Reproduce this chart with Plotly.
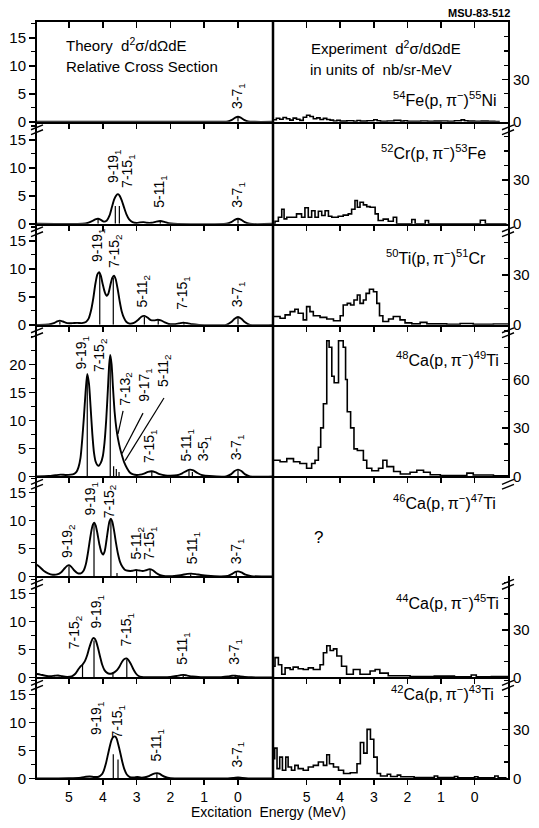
import plotly.graph_objects as go

W, H = 539, 828
FONT = "Liberation Sans, Arial, Helvetica, sans-serif"

# ======================= DATA =======================
# Theory curves (excitation energy MeV, relative cross section)
th1_E = [5.95, 0.5, 0.3, 0.18, 0.08, 0.0, -0.08, -0.18, -0.3, -0.5, -1.04]
th1_y = [0, 0, 0.05, 0.35, 0.75, 0.9, 0.75, 0.35, 0.05, 0, 0]

th2_E = [5.95, 4.6, 4.45, 4.3, 4.2, 4.14, 4.07, 3.97, 3.88, 3.8, 3.73, 3.66, 3.6, 3.55, 3.5, 3.44, 3.37, 3.3,
         3.22, 3.12, 3.0, 2.9, 2.8, 2.7, 2.55, 2.42, 2.3, 2.18, 2.05, 1.9, 0.35, 0.2, 0.1, 0.0, -0.1, -0.2, -0.35, -1.04]
th2_y = [0, 0, 0.15, 0.55, 0.85, 0.9, 0.75, 0.4, 0.6, 1.5, 3.0, 4.4, 5.1, 5.3, 5.0, 4.2, 2.9, 1.7,
         0.8, 0.3, 0.15, 0.25, 0.3, 0.2, 0.2, 0.4, 0.5, 0.35, 0.1, 0, 0, 0.3, 0.7, 0.9, 0.7, 0.3, 0, 0]

th3_E = [5.95, 5.6, 5.45, 5.35, 5.27, 5.18, 5.05, 4.9, 4.76, 4.62, 4.5, 4.42, 4.35, 4.28, 4.22, 4.16, 4.11, 4.06,
         4.0, 3.94, 3.89, 3.84, 3.78, 3.72, 3.67, 3.62, 3.56, 3.5, 3.44, 3.37, 3.3, 3.2, 3.08, 2.95, 2.86, 2.77,
         2.68, 2.58, 2.48, 2.38, 2.28, 2.17, 2.05, 1.9, 1.75, 1.62, 1.5, 1.35, 1.15, 0.35, 0.2, 0.1, 0.0, -0.1,
         -0.2, -0.35, -1.04]
th3_y = [0, 0.05, 0.3, 0.6, 0.75, 0.6, 0.3, 0.3, 0.35, 0.3, 0.5, 1.1, 2.5, 4.8, 7.3, 9.0, 9.4, 8.8,
         7.2, 5.8, 5.2, 5.5, 7.0, 8.4, 8.8, 8.2, 6.4, 4.2, 2.4, 1.2, 0.5, 0.2, 0.35, 0.9, 1.45, 1.6,
         1.3, 0.85, 0.8, 0.9, 0.8, 0.45, 0.15, 0.1, 0.25, 0.4, 0.3, 0.1, 0, 0, 0.5, 1.1, 1.4, 1.1,
         0.5, 0, 0]

th4_E = [5.95, 5.6, 5.4, 5.25, 5.1, 4.95, 4.85, 4.78, 4.72, 4.66, 4.61, 4.56, 4.51, 4.46, 4.41, 4.36, 4.31, 4.26,
         4.21, 4.16, 4.12, 4.06, 4.0, 3.95, 3.9, 3.85, 3.81, 3.78, 3.74, 3.7, 3.65, 3.6, 3.55, 3.49, 3.43, 3.36,
         3.28, 3.2, 3.1, 3.0, 2.9, 2.78, 2.66, 2.55, 2.45, 2.32, 2.15, 2.0, 1.8, 1.65, 1.52, 1.42, 1.32, 1.2,
         1.05, 0.85, 0.35, 0.2, 0.1, 0.0, -0.1, -0.2, -0.35, -1.04]
th4_y = [0, 0.05, 0.2, 0.3, 0.25, 0.3, 0.45, 0.8, 1.6, 3.3, 6.5, 10.5, 15.0, 18.3, 16.6, 12.3, 7.6, 4.2,
         2.6, 2.0, 1.9, 2.4, 3.6, 6.0, 10.0, 15.5, 20.0, 21.7, 20.0, 16.0, 11.5, 8.6, 6.7, 5.0, 3.7, 2.4,
         1.4, 0.7, 0.35, 0.25, 0.3, 0.5, 0.8, 0.9, 0.75, 0.4, 0.15, 0.1, 0.2, 0.55, 1.0, 1.2, 1.05, 0.6,
         0.2, 0.05, 0, 0.4, 0.95, 1.2, 0.95, 0.4, 0, 0]

th5_E = [5.95, 5.85, 5.75, 5.62, 5.48, 5.35, 5.22, 5.12, 5.05, 5.0, 4.93, 4.85, 4.75, 4.65, 4.57, 4.5, 4.44, 4.38,
         4.33, 4.29, 4.25, 4.21, 4.16, 4.1, 4.04, 3.99, 3.94, 3.89, 3.84, 3.8, 3.76, 3.72, 3.67, 3.61, 3.55,
         3.49, 3.42, 3.35, 3.25, 3.12, 3.02, 2.92, 2.82, 2.72, 2.62, 2.52, 2.42, 2.3, 2.15, 1.95, 1.7, 1.5,
         1.38, 1.25, 1.1, 0.9, 0.5, 0.3, 0.17, 0.08, 0.0, -0.1, -0.22, -0.4, -1.04]
th5_y = [2.1, 1.6, 1.0, 0.55, 0.3, 0.35, 0.8, 1.5, 1.9, 2.0, 1.7, 1.1, 0.6, 0.55, 1.0, 2.2, 4.2, 6.6,
         8.4, 9.3, 9.6, 9.1, 7.7, 5.7, 4.3, 3.9, 4.6, 6.5, 8.6, 9.9, 10.3, 9.8, 8.3, 6.0, 4.0,
         2.6, 1.7, 1.2, 1.0, 1.0, 1.15, 1.05, 0.95, 1.1, 1.3, 1.1, 0.6, 0.2, 0.05, 0.05, 0.2, 0.45,
         0.5, 0.4, 0.25, 0.1, 0, 0.1, 0.45, 0.8, 0.9, 0.7, 0.3, 0.05, 0]

th6_E = [5.95, 5.85, 5.7, 5.55, 5.42, 5.32, 5.2, 5.05, 4.92, 4.82, 4.74, 4.67, 4.6, 4.53, 4.46, 4.4, 4.34, 4.29,
         4.25, 4.2, 4.14, 4.08, 4.02, 3.95, 3.87, 3.8, 3.73, 3.66, 3.58, 3.5, 3.43, 3.36, 3.3, 3.24, 3.17, 3.1,
         3.02, 2.94, 2.85, 2.7, 2.3, 2.0, 1.82, 1.7, 1.62, 1.52, 1.35, 1.1, 0.5, 0.3, 0.18, 0.08, -0.05, -0.2,
         -0.4, -1.04]
th6_y = [0.6, 0.5, 0.3, 0.2, 0.3, 0.35, 0.2, 0.1, 0.2, 0.6, 1.3, 1.9, 2.3, 2.9, 4.0, 5.3, 6.4, 7.0,
         7.0, 6.5, 5.2, 3.7, 2.3, 1.3, 0.8, 0.65, 0.7, 0.9, 1.3, 2.0, 2.8, 3.3, 3.4, 3.1, 2.4, 1.5,
         0.7, 0.25, 0.1, 0.05, 0.05, 0.1, 0.25, 0.4, 0.45, 0.35, 0.15, 0.05, 0.05, 0.15, 0.3, 0.3, 0.2, 0.1,
         0.02, 0]

th7_E = [5.95, 5.0, 4.65, 4.5, 4.38, 4.25, 4.12, 4.03, 3.97, 3.91, 3.85, 3.79, 3.74, 3.69, 3.64, 3.59, 3.54, 3.48,
         3.42, 3.36, 3.29, 3.2, 3.08, 2.98, 2.88, 2.75, 2.62, 2.52, 2.45, 2.39, 2.33, 2.25, 2.15, 2.0, 1.5, 0.3,
         0.12, 0.0, -0.12, -0.3, -1.04]
th7_y = [0, 0.05, 0.15, 0.3, 0.35, 0.25, 0.3, 0.7, 1.4, 2.6, 4.2, 5.8, 6.9, 7.4, 7.5, 7.1, 6.0, 4.5,
         2.9, 1.6, 0.7, 0.25, 0.15, 0.25, 0.15, 0.2, 0.45, 0.75, 0.9, 0.95, 0.85, 0.55, 0.25, 0.05, 0, 0,
         0.08, 0.15, 0.08, 0, 0]

# Theory state lines (energy, strength)
st1_E = [0.0]
st1_h = [0.9]
st2_E = [4.14, 3.63, 3.51, 2.3, 0.0]
st2_h = [0.8, 3.2, 3.2, 0.5, 0.9]
st3_E = [5.27, 4.09, 3.69, 2.77, 2.36, 1.6, 0.0]
st3_h = [0.6, 9.0, 8.4, 1.4, 0.8, 0.35, 1.3]
st4_E = [4.46, 3.78, 3.68, 3.6, 3.52, 2.55, 1.45, 1.35, 0.0]
st4_h = [17.8, 21.2, 1.8, 1.3, 0.8, 0.8, 1.1, 0.8, 1.1]
st5_E = [5.0, 4.26, 3.76, 3.58, 3.0, 2.6, 1.4, 0.05]
st5_h = [1.8, 9.3, 10.0, 0.6, 1.0, 1.2, 0.4, 0.8]
st6_E = [4.6, 4.26, 3.7, 3.29, 1.62, 0.08]
st6_h = [2.2, 6.6, 0.6, 3.2, 0.4, 0.3]
st7_E = [3.69, 3.55, 2.4]
st7_h = [4.3, 3.4, 0.85]

# Experimental histograms: bin edges (MeV) and counts (nb/sr-MeV)
ex1_E = [6.0, 5.9, 5.8, 5.7, 5.6, 5.5, 5.4, 5.3, 5.2, 5.1, 5.0, 4.9, 4.8, 4.7, 4.6, 4.5, 4.4, 4.3, 4.2, 4.1,
         4.0, 3.8, 3.6, 3.5, 3.4, 3.2, 3.0, 2.9, 2.8, 2.6, 2.4, 2.2, 2.1, 2.0, 1.8, 1.6, 1.4, 1.2, 1.0, 0.8,
         0.6, 0.4, 0.3, 0.2, 0.0, -0.2, -0.4, -0.6, -0.75]
ex1_y = [1.5, 2.5, 1.8, 3.0, 2.2, 1.2, 2.6, 1.8, 1.0, 3.2, 4.6, 3.8, 2.2, 2.8, 1.6, 2.4, 1.6, 1.2, 0.6, 1.0,
         0.5, 0.7, 0.4, 0.9, 0.5, 0.8, 1.5, 0.8, 0.4, 0.6, 1.0, 0.5, 0.8, 0.4, 0.3, 0.6, 0.3, 0.5, 0.6, 0.4,
         0.8, 1.4, 0.8, 0.5, 0.3, 0.5, 0.3, 0.2]

ex2_E = [6.0, 5.94, 5.84, 5.74, 5.67, 5.59, 5.30, 5.15, 5.05, 4.95, 4.85, 4.75, 4.65, 4.55, 4.45, 4.35, 4.25,
         4.06, 3.91, 3.76, 3.66, 3.56, 3.49, 3.41, 3.31, 3.21, 3.11, 2.96, 2.87, 2.72, 2.57, 2.42, 2.32, 1.87,
         1.77, 1.47, 1.37, -0.17, -0.32, -0.95]
ex2_y = [0, 1.8, 4.5, 10, 3.4, 4.5, 6.8, 4.5, 11, 4.5, 9, 4.5, 8.6, 5.7, 9, 5.2, 4.5, 5.2, 6, 6.8, 10, 16,
         11.4, 14.8, 13, 11.8, 11.4, 6.8, 2.3, 3.2, 1.8, 4.5, 0, 3, 0, 2.3, 0, 2.5, 0]

ex3_E = [6.0, 5.79, 5.64, 5.49, 5.35, 5.25, 5.10, 5.0, 4.90, 4.80, 4.60, 4.40, 4.20, 4.0, 3.91, 3.79, 3.69,
         3.59, 3.49, 3.41, 3.31, 3.23, 3.13, 3.01, 2.91, 2.83, 2.73, 2.56, 2.42, 2.22, 2.07, 1.87, 1.62, 1.42,
         0.83, 0.43, 0.04, -0.56, -1.0]
ex3_y = [5, 4, 6, 8, 9.4, 7, 3, 11, 8, 5.5, 4.5, 3.5, 2.5, 5.5, 12, 13, 12, 15, 18, 13, 15, 19, 21.5, 20,
         13, 5.5, 2, 3.5, 5, 3, 1.2, 0.6, 1.5, 0.6, 0.3, 0.8, 0.3, 0.5]

ex4_E = [6.0, 5.79, 5.59, 5.39, 5.2, 5.0, 4.85, 4.75, 4.65, 4.58, 4.5, 4.4, 4.33, 4.25, 4.18, 4.05, 3.91,
         3.84, 3.79, 3.69, 3.59, 3.49, 3.31, 3.21, 3.06, 2.86, 2.73, 2.61, 2.41, 2.21, 1.92, 1.72, 1.52, 1.32,
         1.02, 0.23, 0.04, -0.56, -1.0]
ex4_y = [10, 9, 11, 9, 8, 5, 8, 10, 18, 30, 45, 84, 80, 62, 58, 84, 80, 60, 40, 30, 17, 16, 10, 5, 3.5,
         5, 10, 6, 3, 1.5, 2.5, 3.8, 2.5, 1.0, 0.5, 2.0, 0.8, 0.3]

ex5_E = []
ex5_y = []

ex6_E = [6.0, 5.94, 5.84, 5.74, 5.64, 5.49, 5.40, 5.25, 5.10, 4.95, 4.80, 4.60, 4.50, 4.40, 4.30, 4.20, 4.10,
         3.96, 3.81, 3.61, 3.41, 3.11, 2.96, 2.82, 2.57, 1.92, 1.2, 0.6, 0.1, -0.05, -0.5, -1.0]
ex6_y = [7, 12.5, 8, 2, 6, 5, 6.5, 5.5, 5, 6, 5, 8, 15.6, 20, 17, 18, 13.5, 7, 2, 5, 2, 4, 5, 2.7, 1.0,
         0.5, 0.8, 0.4, 1.5, 0.4, 0.5]

ex7_E = [6.0, 5.95, 5.88, 5.80, 5.72, 5.62, 5.55, 5.45, 5.35, 5.25, 5.1, 4.95, 4.8, 4.65, 4.5, 4.4, 4.32,
         4.2, 4.05, 3.9, 3.7, 3.5, 3.4, 3.3, 3.2, 3.1, 3.0, 2.9, 2.8, 2.6, 2.5, 2.3, 2.2, 1.8, 1.2, 1.1, 0.6,
         0.5, 0.0, -0.1, -0.6, -0.7, -0.95]
ex7_y = [12, 18.5, 6, 13, 5, 13, 7, 5, 8, 6, 5, 7, 8, 10, 8, 14.5, 9, 7, 5, 3, 3.5, 9, 22, 15.5, 30, 24,
         13, 3, 1.5, 2.5, 1.2, 2, 1.0, 0.5, 1.5, 0.5, 1.2, 0.4, 1, 0.3, 1.5, 0.3]

# State labels: text, energy, height of label foot
lb1_t = ["3-7<sub>1</sub>"]
lb1_E = [0.0]
lb1_y = [1.95]
lb2_t = ["9-19<sub>1</sub>", "7-15<sub>1</sub>", "5-11<sub>1</sub>", "3-7<sub>1</sub>"]
lb2_E = [3.69, 3.25, 2.31, 0.0]
lb2_y = [6.9, 6.0, 2.5, 2.5]
lb3_t = ["9-19<sub>1</sub>", "7-15<sub>2</sub>", "5-11<sub>2</sub>", "7-15<sub>1</sub>", "3-7<sub>1</sub>"]
lb3_E = [4.14, 3.64, 2.80, 1.62, 0.0]
lb3_y = [10.8, 9.9, 2.8, 2.3, 2.8]
lb4_t = ["9-19<sub>1</sub>", "7-15<sub>2</sub>", "7-13<sub>2</sub>", "9-17<sub>1</sub>", "5-11<sub>2</sub>",
         "7-15<sub>1</sub>", "5-11<sub>1</sub>", "3-5<sub>1</sub>", "3-7<sub>1</sub>"]
lb4_E = [4.62, 4.08, 3.34, 2.75, 2.19, 2.60, 1.48, 0.98, 0.03]
lb4_y = [18.8, 18.2, 12.2, 12.9, 15.6, 1.95, 2.3, 2.3, 2.5]
lb5_t = ["9-19<sub>2</sub>", "9-19<sub>1</sub>", "7-15<sub>2</sub>", "5-11<sub>2</sub>", "7-15<sub>1</sub>",
         "5-11<sub>1</sub>", "3-7<sub>1</sub>"]
lb5_E = [5.03, 4.35, 3.79, 2.99, 2.60, 1.33, 0.03]
lb5_y = [3.0, 10.6, 10.1, 2.65, 2.5, 1.8, 1.8]
lb6_t = ["7-15<sub>2</sub>", "9-19<sub>1</sub>", "7-15<sub>1</sub>", "5-11<sub>1</sub>", "3-7<sub>1</sub>"]
lb6_E = [4.82, 4.17, 3.28, 1.63, 0.09]
lb6_y = [4.6, 8.3, 5.1, 1.9, 1.9]
lb7_t = ["9-19<sub>1</sub>", "7-15<sub>1</sub>", "5-11<sub>1</sub>", "3-7<sub>1</sub>"]
lb7_E = [4.17, 3.55, 2.40, 0.0]
lb7_y = [7.3, 6.7, 2.65, 1.6]

# Leader lines in the 48Ca panel (label foot -> state)
ld4_E0 = [3.40, 2.81, 2.19]
ld4_y0 = [11.7, 11.3, 14.0]
ld4_E1 = [3.55, 3.43, 3.34]
ld4_y1 = [7.6, 4.1, 2.8]

reactions = [
    "<sup>54</sup>Fe(p,\u2009π<sup>−</sup>)<sup>55</sup>Ni",
    "<sup>52</sup>Cr(p,\u2009π<sup>−</sup>)<sup>53</sup>Fe",
    "<sup>50</sup>Ti(p,\u2009π<sup>−</sup>)<sup>51</sup>Cr",
    "<sup>48</sup>Ca(p,\u2009π<sup>−</sup>)<sup>49</sup>Ti",
    "<sup>46</sup>Ca(p,\u2009π<sup>−</sup>)<sup>47</sup>Ti",
    "<sup>44</sup>Ca(p,\u2009π<sup>−</sup>)<sup>45</sup>Ti",
    "<sup>42</sup>Ca(p,\u2009π<sup>−</sup>)<sup>43</sup>Ti",
]
left_ticks = [[0, 5, 10, 15]] * 3 + [[0, 5, 10, 15, 20]] + [[0, 5, 10, 15]] * 3
right_ticks = [[0, 30]] * 3 + [[0, 30, 60]] + [[0, 30]] * 3
energy_ticks = [5, 4, 3, 2, 1, 0]

rows = [
    (th1_E, th1_y, st1_E, st1_h, ex1_E, ex1_y, lb1_t, lb1_E, lb1_y),
    (th2_E, th2_y, st2_E, st2_h, ex2_E, ex2_y, lb2_t, lb2_E, lb2_y),
    (th3_E, th3_y, st3_E, st3_h, ex3_E, ex3_y, lb3_t, lb3_E, lb3_y),
    (th4_E, th4_y, st4_E, st4_h, ex4_E, ex4_y, lb4_t, lb4_E, lb4_y),
    (th5_E, th5_y, st5_E, st5_h, ex5_E, ex5_y, lb5_t, lb5_E, lb5_y),
    (th6_E, th6_y, st6_E, st6_h, ex6_E, ex6_y, lb6_t, lb6_E, lb6_y),
    (th7_E, th7_y, st7_E, st7_h, ex7_E, ex7_y, lb7_t, lb7_E, lb7_y),
]

# ======================= GEOMETRY / STYLE =======================
def fx(px):
    return px / W


def fy(py):
    return 1 - py / H


ROW_TOP = [22, 123, 226, 328, 481, 582, 684]
ROW_ZERO = [123, 226, 328, 481, 582, 684, 786]
X_L, X_M, X_R = 37, 273, 508
LEFT_PPU = 5.65
RIGHT_PPU = [1.43, 1.47, 1.67, 1.63, 2.7, 1.6, 1.65]
LEFT_XR = [(238 - X_L) / 33.8, (238 - X_M) / 33.8]
RIGHT_XR = [6.0, 6.0 - (X_R - X_M) / 33.6]
REACT_POS = [(498, 100), (488, 153), (488, 260), (501, 362), (498, 507), (501, 608), (496, 700)]

TICKFONT = dict(family=FONT, size=15, color="black")
XTICKFONT = dict(family=FONT, size=14, color="black")


def aid(k):
    return "" if k == 1 else str(k)


layout = dict(
    width=W, height=H, margin=dict(l=0, r=0, t=0, b=0),
    paper_bgcolor="white", plot_bgcolor="white", showlegend=False,
    font=dict(family=FONT, color="black"),
)
traces = []
annotations = []
shapes = []

for i, (thE, thY, stE, stH, exE, exY, lbT, lbE, lbY) in enumerate(rows):
    kl, kr = 2 * i + 1, 2 * i + 2
    ydom = [fy(ROW_ZERO[i]), fy(ROW_TOP[i])]
    last = i == 6
    hgt = ROW_ZERO[i] - ROW_TOP[i]
    xbase = dict(showline=True, linecolor="black", linewidth=2, ticks="outside", ticklen=5, tickwidth=1.5,
                 tickcolor="black", tickmode="array", tickvals=energy_ticks, showticklabels=last,
                 tickfont=XTICKFONT, showgrid=False, zeroline=False, fixedrange=True)
    layout["xaxis" + aid(kl)] = dict(xbase, domain=[fx(X_L), fx(X_M)], range=LEFT_XR, anchor="y" + aid(kl))
    layout["xaxis" + aid(kr)] = dict(xbase, domain=[fx(X_M), fx(X_R)], range=RIGHT_XR, anchor="y" + aid(kr))
    layout["yaxis" + aid(kl)] = dict(
        domain=ydom, range=[0, hgt / LEFT_PPU], anchor="x" + aid(kl), side="left",
        showline=True, linecolor="black", linewidth=2, ticks="outside", ticklen=6, tickwidth=1.5,
        tickcolor="black", tickmode="array", tickvals=left_ticks[i],
        minor=dict(tickmode="linear", tick0=0, dtick=2.5, ticks="outside", ticklen=4, tickcolor="black",
                   tickwidth=1.2),
        tickfont=TICKFONT, showgrid=False, zeroline=False, fixedrange=True)
    layout["yaxis" + aid(kr)] = dict(
        domain=ydom, range=[0, hgt / RIGHT_PPU[i]], anchor="x" + aid(kr), side="right",
        showline=True, linecolor="black", linewidth=2, ticks="inside", ticklen=6, tickwidth=1.5,
        tickcolor="black", tickmode="array", tickvals=right_ticks[i],
        minor=dict(tickmode="linear", tick0=0, dtick=10, ticks="inside", ticklen=4, tickcolor="black",
                   tickwidth=1.2),
        tickfont=TICKFONT, showgrid=False, zeroline=False, fixedrange=True)

    xl, yl = "x" + aid(kl), "y" + aid(kl)
    xr, yr = "x" + aid(kr), "y" + aid(kr)

    # theory curve
    traces.append(go.Scatter(x=thE, y=thY, mode="lines", xaxis=xl, yaxis=yl, hoverinfo="skip",
                             line=dict(color="black", width=1.9, shape="spline", smoothing=0.7)))
    # state sticks
    sx, sy = [], []
    for e, h in zip(stE, stH):
        sx += [e, e, None]
        sy += [0, h, None]
    traces.append(go.Scatter(x=sx, y=sy, mode="lines", xaxis=xl, yaxis=yl, hoverinfo="skip",
                             line=dict(color="black", width=1.2)))
    # experimental histogram
    n = min(len(exE) - 1, len(exY))
    if n > 0:
        hx = [exE[0]] + list(exE[:n + 1])
        hy = [0] + list(exY[:n]) + [exY[n - 1]]
        traces.append(go.Scatter(x=hx, y=hy, mode="lines", xaxis=xr, yaxis=yr, hoverinfo="skip",
                                 line=dict(color="black", width=1.6, shape="hv")))
    # state labels
    for t, e, yv in zip(lbT, lbE, lbY):
        annotations.append(dict(text=t, x=e, y=yv, xref=xl, yref=yl, showarrow=False, textangle=-90,
                                xanchor="center", yanchor="bottom",
                                font=dict(family=FONT, size=14, color="black")))
    # reaction label
    px_, py_ = REACT_POS[i]
    annotations.append(dict(text=reactions[i], x=fx(px_), y=fy(py_), xref="paper", yref="paper",
                            showarrow=False, xanchor="right", yanchor="middle",
                            font=dict(family=FONT, size=16, color="black")))

# leader lines, 48Ca panel (row 4 -> left axis 7)
for e0, y0, e1, y1 in zip(ld4_E0, ld4_y0, ld4_E1, ld4_y1):
    shapes.append(dict(type="line", xref="x7", yref="y7", x0=e0, y0=y0, x1=e1, y1=y1,
                       line=dict(color="black", width=1.2)))

# top border with inward ticks (row 1)
for k, rng, dom in [(15, LEFT_XR, [fx(X_L), fx(X_M)]), (16, RIGHT_XR, [fx(X_M), fx(X_R)])]:
    base = 1 if k == 15 else 2
    layout["xaxis" + str(k)] = dict(
        overlaying="x" + aid(base), anchor="y" + aid(base), side="top", domain=dom, range=rng,
        showline=True, linecolor="black", linewidth=2, ticks="inside", ticklen=6, tickwidth=1.5,
        tickcolor="black", tickmode="array", tickvals=energy_ticks, showticklabels=False,
        showgrid=False, zeroline=False, fixedrange=True)
    traces.append(go.Scatter(x=[rng[0]], y=[-10], mode="markers", xaxis="x" + str(k),
                             yaxis="y" + aid(base), hoverinfo="skip", marker=dict(opacity=0)))

# central divider
shapes.append(dict(type="line", xref="paper", yref="paper", x0=fx(X_M), x1=fx(X_M),
                   y0=fy(ROW_ZERO[-1]), y1=fy(ROW_TOP[0]), line=dict(color="black", width=2.5)))

# axis-break marks
for top in ROW_TOP[1:]:
    for xa in (X_L, X_R):
        for dy in (3, 8):
            shapes.append(dict(type="line", xref="paper", yref="paper",
                               x0=fx(xa - 6), y0=fy(top + dy + 5), x1=fx(xa + 6), y1=fy(top + dy),
                               line=dict(color="black", width=1.4)))

# free text
def txt(s, px_, py_, size=15, anchor="left", **kw):
    annotations.append(dict(text=s, x=fx(px_), y=fy(py_), xref="paper", yref="paper", showarrow=False,
                            xanchor=anchor, yanchor="middle",
                            font=dict(family=FONT, size=size, color="black"), **kw))


txt("<b>MSU-83-512</b>", 512, 13, size=11, anchor="right")
txt("Theory\u00a0\u00a0d<sup>2</sup>σ/dΩdE", 64, 45)
txt("Relative Cross Section", 64, 67)
txt("Experiment\u00a0\u00a0d<sup>2</sup>σ/dΩdE", 309, 48)
txt("in units of\u00a0\u00a0nb/sr-MeV", 308, 70)
txt("?", 318, 543, size=17, anchor="center")
txt("Excitation\u00a0\u00a0Energy (MeV)", 268, 820, size=14, anchor="center")

layout["annotations"] = annotations
layout["shapes"] = shapes

fig = go.Figure(data=traces, layout=layout)
fig.write_html("out.html", config={"displayModeBar": False, "staticPlot": True},
               post_script="document.body.style.margin='0px';document.body.style.overflow='hidden';")
